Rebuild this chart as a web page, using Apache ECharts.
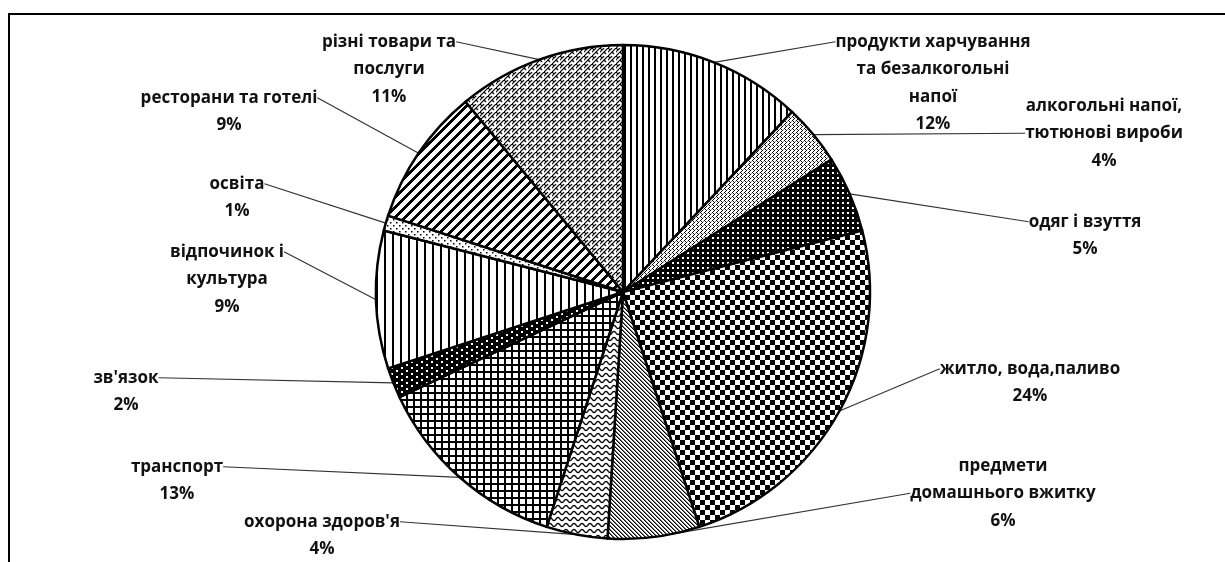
<!DOCTYPE html>
<html>
<head>
<meta charset="utf-8">
<script src="https://cdn.jsdelivr.net/npm/echarts@6/dist/echarts.min.js"></script>
<style>
  html, body { margin: 0; padding: 0; background: #fff; }
  #chart { position: absolute; left: 0; top: 0; width: 1225px; height: 562px; }
  #frame { position: absolute; left: 8px; top: 13px; width: 1240px; height: 600px;
           border-left: 2px solid #000; border-top: 2px solid #000; box-sizing: border-box; pointer-events: none; }
</style>
</head>
<body>
<div id="chart"></div>
<div id="frame"></div>
<script>
// ---- data ----
const categories = [
  'продукти харчування\nта безалкогольні\nнапої',
  'алкогольні напої,\nтютюнові вироби',
  'одяг і взуття',
  'житло, вода,паливо',
  'предмети\nдомашнього вжитку',
  "охорона здоров'я",
  'транспорт',
  "зв'язок",
  'відпочинок і\nкультура',
  'освіта',
  'ресторани та готелі',
  'різні товари та\nпослуги'
];
const shares = [12, 4, 5, 24, 6, 4, 13, 2, 9, 1, 9, 11];

// ---- layout (label: center x, top y of first line; which line the leader meets) ----
const labelPos = [
  [933, 28], [1104, 92], [1085, 208], [1030, 355], [1003, 452], [322, 508],
  [177, 453], [126, 364], [227, 238], [237, 170], [229, 84], [389, 28]
];
const leaderLine = [0, 1, 0, 0, 1, 0, 0, 0, 0, 0, 0, 0];
const LINE_H = 27.5;

// ---- patterns ----
function tile(w, h, draw) {
  const c = document.createElement('canvas');
  c.width = w; c.height = h;
  const g = c.getContext('2d');
  g.fillStyle = '#fff'; g.fillRect(0, 0, w, h);
  g.fillStyle = '#000'; g.strokeStyle = '#000';
  draw(g, w, h);
  return { image: c, repeat: 'repeat' };
}
const patterns = [
  tile(6, 6, g => { g.fillRect(0, 0, 2, 6); }),
  tile(4, 4, g => { g.fillRect(0, 0, 1, 1); g.fillRect(1, 1, 1, 1); g.fillRect(2, 2, 1, 1); g.fillRect(1, 3, 1, 1); g.fillStyle = '#888'; g.fillRect(3, 1, 1, 1); }),
  tile(5, 5, g => { g.fillRect(0, 0, 5, 5); g.fillStyle = '#fff'; g.fillRect(2, 2, 2, 2); }),
  tile(10, 10, g => { g.fillRect(0, 0, 5, 5); g.fillRect(5, 5, 5, 5); }),
  tile(4, 4, g => { for (let i = 0; i < 4; i++) g.fillRect(i, i, 1, 1); g.fillStyle = '#777'; for (let i = 0; i < 4; i++) g.fillRect((i + 1) % 4, i, 1, 1); }),
  tile(8, 6, g => {
    g.lineWidth = 1.3; g.beginPath();
    for (let x = -1; x <= 9; x += 0.5) { const y = 3 + 1.6 * Math.sin(x / 8 * Math.PI * 2); x === -1 ? g.moveTo(x, y) : g.lineTo(x, y); }
    g.stroke();
  }),
  tile(7, 7, g => { g.fillRect(0, 0, 7, 2); g.fillRect(0, 0, 2, 7); }),
  tile(10, 6, g => { g.fillRect(0, 0, 10, 6); g.fillStyle = '#fff'; g.fillRect(1, 1, 2, 2); g.fillRect(6, 4, 2, 2); }),
  tile(8, 8, g => { g.fillRect(0, 0, 2, 8); }),
  tile(6, 6, g => { g.fillRect(0, 0, 1.5, 1.5); g.fillRect(3, 3, 1.5, 1.5); }),
  tile(10, 10, g => {
    for (let y = 0; y < 10; y++) for (let x = 0; x < 10; x++) if ((x + y) % 10 < 4) g.fillRect(x, y, 1, 1);
  }),
  tile(8, 8, g => {
    g.lineWidth = 1.2; g.beginPath();
    g.moveTo(0, 8); g.lineTo(8, 0);
    g.moveTo(-4, 8); g.lineTo(4, 0);
    g.moveTo(4, 4); g.lineTo(6, 6);
    g.moveTo(0, 0); g.lineTo(2, 2);
    g.moveTo(8, 8); g.lineTo(10, 10);
    g.stroke();
  })
];

const font = { fontFamily: 'Open Sans', fontWeight: 'bold', fontSize: 17, lineHeight: LINE_H };
const common = {
  type: 'pie',
  center: [623, 292],
  radius: 247,
  startAngle: 90,
  clockwise: true,
  avoidLabelOverlap: false,
  percentPrecision: 0,
  emphasis: { disabled: true },
  silent: true
};

function textLines(i) {
  return categories[i].split('\n').concat([shares[i] + '%']);
}

const chart = echarts.init(document.getElementById('chart'), null, { renderer: 'canvas' });
chart.setOption({
  animation: false,
  series: [
    Object.assign({}, common, {
      name: 'shares',
      data: categories.map((n, i) => ({ name: n, value: shares[i], itemStyle: { color: patterns[i] } })),
      itemStyle: { borderColor: '#000', borderWidth: 2.5 },
      label: Object.assign({
        show: true, position: 'outside', formatter: '{b}\n{d}%', color: '#111', align: 'center'
      }, font),
      labelLine: { show: false },
      labelLayout: function (params) {
        const p = labelPos[params.dataIndex];
        return { x: p[0], y: p[1], align: 'center', verticalAlign: 'top' };
      }
    }),
    // leader lines: same slices, invisible, label = the line the leader points to
    Object.assign({}, common, {
      name: 'leaders',
      z: 1,
      data: categories.map((n, i) => ({ name: n, value: shares[i] })),
      itemStyle: { color: 'rgba(0,0,0,0)', borderWidth: 0 },
      label: Object.assign({
        show: true, position: 'outside', color: 'rgba(0,0,0,0)', align: 'center',
        formatter: p => textLines(p.dataIndex)[leaderLine[p.dataIndex]]
      }, font),
      labelLine: { show: true, length: 10, length2: 0, lineStyle: { color: '#333', width: 1.2 } },
      labelLayout: function (params) {
        const p = labelPos[params.dataIndex];
        return { x: p[0], y: p[1] + leaderLine[params.dataIndex] * LINE_H, align: 'center', verticalAlign: 'top' };
      }
    })
  ]
});
</script>
</body>
</html>
